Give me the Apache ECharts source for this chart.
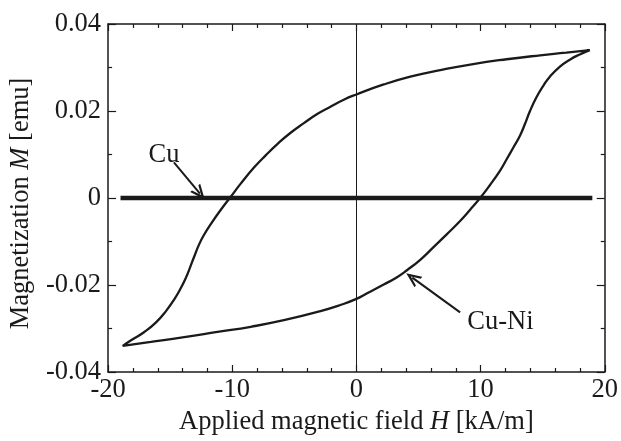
<!DOCTYPE html>
<html>
<head>
<meta charset="utf-8">
<script src="https://cdn.jsdelivr.net/npm/echarts@6/dist/echarts.min.js"></script>
<style>
  html, body { margin: 0; padding: 0; background: #fff; }
  #chart { width: 621px; height: 441px; }
</style>
</head>
<body>
<div id="chart"></div>
<script>
// ---------- data ----------
// Cu-Ni upper branch: field swept down from +H to -H
const upperH = [18.8, 16.9, 14.8, 12.1, 9.4, 6.75, 4.34, 2.2, 0, -1.02, -2.09, -3.16, -4.23, -5.3, -6.37, -7.31, -8.25, -9.32, -10.12, -10.92, -11.73, -12.26, -12.66, -13.07, -13.39, -13.73, -14.14, -14.67, -15.34, -16.14, -17.08, -18.15, -18.82];
const upperM = [0.034, 0.0334, 0.0328, 0.0319, 0.0308, 0.0294, 0.0279, 0.0261, 0.0238, 0.0226, 0.021, 0.0193, 0.0172, 0.015, 0.0124, 0.0098, 0.0070, 0.0033, 0.0003, -0.0027, -0.0060, -0.0084, -0.0106, -0.0135, -0.0159, -0.0183, -0.0207, -0.0233, -0.026, -0.0286, -0.0308, -0.0327, -0.034];
// Cu-Ni lower branch: field swept up from -H to +H
const lowerH = [-18.82, -16.55, -13.87, -11.19, -8.51, -5.84, -2.89, -1.29, 0, 0.86, 2.2, 3.27, 4.07, 5.14, 6.21, 7.29, 8.35, 9.16, 9.96, 10.76, 11.57, 12.1, 12.64, 13.17, 13.57, 13.98, 14.51, 15.05, 15.58, 16.39, 17.19, 17.99, 18.8];
const lowerM = [-0.034, -0.0331, -0.032, -0.0308, -0.0296, -0.0281, -0.026, -0.0246, -0.0232, -0.0219, -0.0199, -0.0182, -0.0166, -0.0142, -0.0113, -0.0083, -0.0053, -0.0027, 0, 0.003, 0.0063, 0.0089, 0.0116, 0.0143, 0.0170, 0.0200, 0.0232, 0.0258, 0.0279, 0.0302, 0.0318, 0.0330, 0.034];
// Cu: flat
const cuH = [-19, 19];
const cuM = [0, 0];

const xTickLabels = ['-20', '-10', '0', '10', '20'];
const yTickLabels = ['-0.04', '-0.02', '0', '0.02', '0.04'];

// annotations: text position and arrow [from, to]
const cuText = [-15.5, 0.0098];
const cuArrow = [[-14.7, 0.0082], [-12.6, 0.0010]];
const cuniText = [11.6, -0.0285];
const cuniArrow = [[8.35, -0.0263], [4.5, -0.0183]];

// ---------- chart ----------
const ink = '#1a1a1a';
const font = 'Liberation Serif';
const fs = 26.5;

const loop = upperH.map((h, i) => [h, upperM[i]])
  .concat(lowerH.map((h, i) => [h, lowerM[i]]));

// open arrow head (chevron), tip pointing up
const chevron = 'path://M5,0L10,11L8.2,11L5,4.2L1.8,11L0,11Z';

function baseX(pos, labels) {
  return {
    type: 'value', position: pos, min: -20, max: 20, interval: 10,
    axisLine: { show: true, onZero: false, lineStyle: { color: ink, width: 1.5 } },
    axisTick: { show: true, inside: true, length: 7, lineStyle: { color: ink, width: 1.2 } },
    minorTick: { show: true, splitNumber: 5, length: 4, lineStyle: { color: ink, width: 1.2 } },
    splitLine: { show: false },
    axisLabel: labels ? {
      show: true, margin: 5, color: ink, fontFamily: font, fontSize: fs,
      formatter: (v, i) => xTickLabels[i]
    } : { show: false }
  };
}
function baseY(pos, labels) {
  return {
    type: 'value', position: pos, min: -0.04, max: 0.04, interval: 0.02,
    axisLine: { show: true, onZero: false, lineStyle: { color: ink, width: 1.5 } },
    axisTick: { show: true, inside: true, length: 8, lineStyle: { color: ink, width: 1.2 } },
    minorTick: { show: true, splitNumber: 2, length: 4, lineStyle: { color: ink, width: 1.2 } },
    splitLine: { show: false },
    axisLabel: labels ? {
      show: true, margin: 7, color: ink, fontFamily: font, fontSize: fs,
      formatter: (v, i) => yTickLabels[i]
    } : { show: false }
  };
}

const italic = { fontStyle: 'italic', fontFamily: font, fontSize: fs, color: ink };

const xBottom = baseX('bottom', true);
xBottom.name = 'Applied magnetic field {i|H} [kA/m]';
xBottom.nameLocation = 'middle';
xBottom.nameGap = 37;
xBottom.nameTextStyle = { color: ink, fontFamily: font, fontSize: fs, rich: { i: italic } };

const yLeft = baseY('left', true);
yLeft.name = 'Magnetization {i|M} [emu]';
yLeft.nameLocation = 'middle';
yLeft.nameGap = 71;
yLeft.nameTextStyle = {
  color: ink, fontFamily: font, fontSize: fs, rich: { i: italic },
  padding: [0, 11, 0, 0]
};

const chart = echarts.init(document.getElementById('chart'));
chart.setOption({
  animation: false,
  backgroundColor: '#fff',
  grid: { left: 107, right: 16, top: 24, bottom: 62 },
  xAxis: [xBottom, baseX('top', false)],
  yAxis: [yLeft, baseY('right', false)],
  series: [
    {
      name: 'Cu-Ni', type: 'line', data: loop, showSymbol: false, smooth: 0.5,
      lineStyle: { color: ink, width: 2.3 }, silent: true,
      markLine: {
        silent: true, symbol: 'none', label: { show: false },
        lineStyle: { color: ink, width: 1, type: 'solid' },
        data: [{ xAxis: 0 }]
      }
    },
    {
      name: 'Cu', type: 'line', data: cuH.map((h, i) => [h, cuM[i]]), showSymbol: false,
      lineStyle: { color: ink, width: 4.5 }, silent: true,
      markLine: {
        silent: true, symbol: ['none', chevron], symbolSize: [13, 15],
        label: { show: false },
        lineStyle: { color: ink, width: 2, type: 'solid' },
        data: [
          [{ coord: cuArrow[0] }, { coord: cuArrow[1] }],
          [{ coord: cuniArrow[0] }, { coord: cuniArrow[1] }]
        ]
      }
    },
    {
      type: 'scatter', symbolSize: 0, silent: true,
      itemStyle: { opacity: 1, color: ink },
      data: [
        { value: cuText, label: { formatter: 'Cu' } },
        { value: cuniText, label: { formatter: 'Cu-Ni' } }
      ],
      label: {
        show: true, position: 'inside', color: ink, opacity: 1,
        textBorderWidth: 0, fontFamily: font, fontSize: fs
      }
    }
  ]
});
</script>
</body>
</html>
